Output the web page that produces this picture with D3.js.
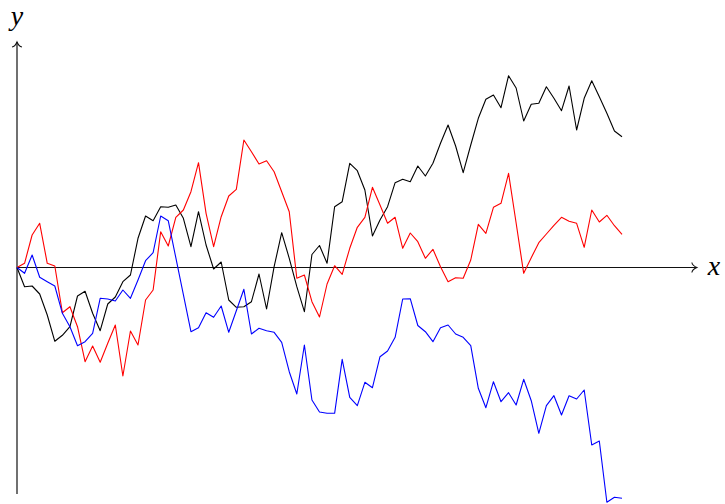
<!DOCTYPE html>
<html>
<head>
<meta charset="utf-8">
<script src="https://cdn.jsdelivr.net/npm/d3@7"></script>
<style>
    body { margin: 0; background: #fff; }
    .axis-lab { font-family: "Liberation Serif", serif; font-style: italic; font-size: 28px; }
</style>
</head>
<body>
<div id="chart"></div>
<script>

// step index of each walk (0..80)
const steps = d3.range(0, 81);

const blackWalk = [0, -1.92, -1.85, -2.65, -4.75, -7.38, -6.78, -5.92, -2.85, -2.38,
    -4.58, -6.32, -3.65, -2.95, -1.42, -0.75, 2.92, 5.15, 4.68, 6.08,
    6.02, 6.25, 4.92, 2.08, 5.58, 2.25, -0.15, 0.55, -3.25, -3.98,
    -3.92, -3.42, -0.65, -4.15, 0.08, 3.48, 0.92, -1.92, -4.42, 1.3,
    2.2, 0.42, 6.08, 6.58, 10.42, 9.68, 7.75, 3.15, 4.75, 6.08,
    8.48, 8.82, 8.58, 10.15, 9.15, 10.42, 12.42, 14.25, 12.15, 9.48,
    12.25, 14.92, 16.82, 17.25, 15.98, 19.18, 17.95, 14.65, 16.32, 16.42,
    18.08, 16.92, 15.68, 18.15, 13.75, 16.92, 18.68, 17.08, 15.42, 13.65, 13.08];

const redWalk = [0, 0.42, 3.25, 4.42, 0.42, 0.15, -4.52, -3.92, -5.92, -9.42,
    -7.85, -9.48, -7.58, -5.75, -10.85, -6.35, -7.75, -3.25, -2.25, 3.58,
    2.15, 5.02, 5.75, 7.58, 10.48, 5.42, 2.08, 5.08, 7.15, 7.82,
    12.75, 11.58, 10.35, 10.68, 9.58, 7.58, 5.58, -1.08, -0.75, -3.42,
    -4.95, -1.65, 0.18, -0.68, 1.92, 4.02, 5.02, 8.02, 6.25, 4.42,
    5.02, 1.92, 3.45, 2.58, 0.92, 1.82, 0.08, -1.42, -1.02, -1.08,
    0.75, 4.32, 3.42, 6.02, 6.42, 9.42, 4.45, -0.58, 0.98, 2.48,
    3.35, 4.22, 5.02, 4.62, 4.42, 2.02, 5.75, 4.55, 5.22, 4.18, 3.32];

const blueWalk = [0, -0.58, 1.25, -0.98, -1.42, -1.85, -4.58, -5.92, -7.82, -7.42,
    -6.58, -3.08, -3.15, -3.35, -2.25, -3.08, -1.25, 0.68, 1.48, 5.15,
    4.68, 0.98, -2.72, -6.42, -6.02, -4.52, -4.98, -3.85, -6.48, -4.32,
    -2.18, -6.65, -6.08, -6.32, -6.48, -7.48, -10.42, -12.65, -7.75, -13.25,
    -14.45, -14.58, -14.58, -9.18, -12.98, -13.82, -11.48, -12.02, -8.92, -8.35,
    -6.98, -3.15, -3.12, -5.8, -6.42, -7.42, -6.02, -5.75, -6.65, -6.98,
    -7.82, -12.08, -14.02, -11.42, -13.42, -12.52, -13.75, -11.18, -13.32, -16.58,
    -13.82, -12.82, -14.75, -12.82, -13.15, -12.25, -17.75, -17.35, -23.48, -22.98, -23.08];

const walkColors = ["black", "red", "blue"];

// axis extents in data units
const xAxisEnd = 89.9;
const yAxisRange = [-22.65, 22.55];

class WalkChart {
    constructor(parentElement) {
        this.parentElement = parentElement;
        this.initVis();
    }

    initVis() {
        let vis = this;

        vis.width = 725;
        vis.height = 504;

        vis.svg = d3.select("#" + vis.parentElement).append("svg")
            .attr("width", vis.width)
            .attr("height", vis.height);

        vis.x = d3.scaleLinear()
            .domain([0, 80])
            .range([17, 622]);

        vis.y = d3.scaleLinear()
            .domain(yAxisRange)
            .range([494, 42]);

        vis.line = d3.line()
            .x((d, i) => vis.x(steps[i]))
            .y(d => vis.y(d));

        vis.wrangleData();
    }

    wrangleData() {
        let vis = this;
        vis.displayData = [blackWalk, redWalk, blueWalk];
        vis.updateVis();
    }

    updateVis() {
        let vis = this;

        let x0 = vis.x(0), y0 = vis.y(0);
        let xTip = vis.x(xAxisEnd), yTip = vis.y(yAxisRange[1]);

        // axes
        vis.svg.append("line")
            .attr("x1", x0).attr("y1", y0)
            .attr("x2", xTip).attr("y2", y0)
            .attr("stroke", "#111").attr("stroke-width", 1.2);

        vis.svg.append("line")
            .attr("x1", x0).attr("y1", vis.y(yAxisRange[0]))
            .attr("x2", x0).attr("y2", yTip)
            .attr("stroke", "#111").attr("stroke-width", 1.2);

        // tikz style arrow heads
        vis.svg.append("path")
            .attr("d", `M${xTip - 5},${y0 - 5} C${xTip - 4.5},${y0 - 2} ${xTip - 1.5},${y0 - 0.6} ${xTip},${y0}
                        C${xTip - 1.5},${y0 + 0.6} ${xTip - 4.5},${y0 + 2} ${xTip - 5},${y0 + 5}`)
            .attr("fill", "none").attr("stroke", "#111").attr("stroke-width", 1.1);

        vis.svg.append("path")
            .attr("d", `M${x0 - 5},${yTip + 5} C${x0 - 2},${yTip + 4.5} ${x0 - 0.6},${yTip + 1.5} ${x0},${yTip}
                        C${x0 + 0.6},${yTip + 1.5} ${x0 + 2},${yTip + 4.5} ${x0 + 5},${yTip + 5}`)
            .attr("fill", "none").attr("stroke", "#111").attr("stroke-width", 1.1);

        vis.svg.append("text")
            .attr("class", "axis-lab")
            .attr("x", xTip + 11)
            .attr("y", y0 + 7)
            .text("x");

        vis.svg.append("text")
            .attr("class", "axis-lab")
            .attr("x", x0)
            .attr("y", 25)
            .attr("text-anchor", "middle")
            .text("y");

        // walks
        vis.svg.selectAll(".walk")
            .data(vis.displayData)
            .enter()
            .append("path")
            .attr("class", "walk")
            .attr("d", d => vis.line(d))
            .attr("fill", "none")
            .attr("stroke", (d, i) => walkColors[i])
            .attr("stroke-width", 1.1)
            .attr("stroke-linejoin", "round");
    }
}

new WalkChart("chart");

</script>
</body>
</html>
